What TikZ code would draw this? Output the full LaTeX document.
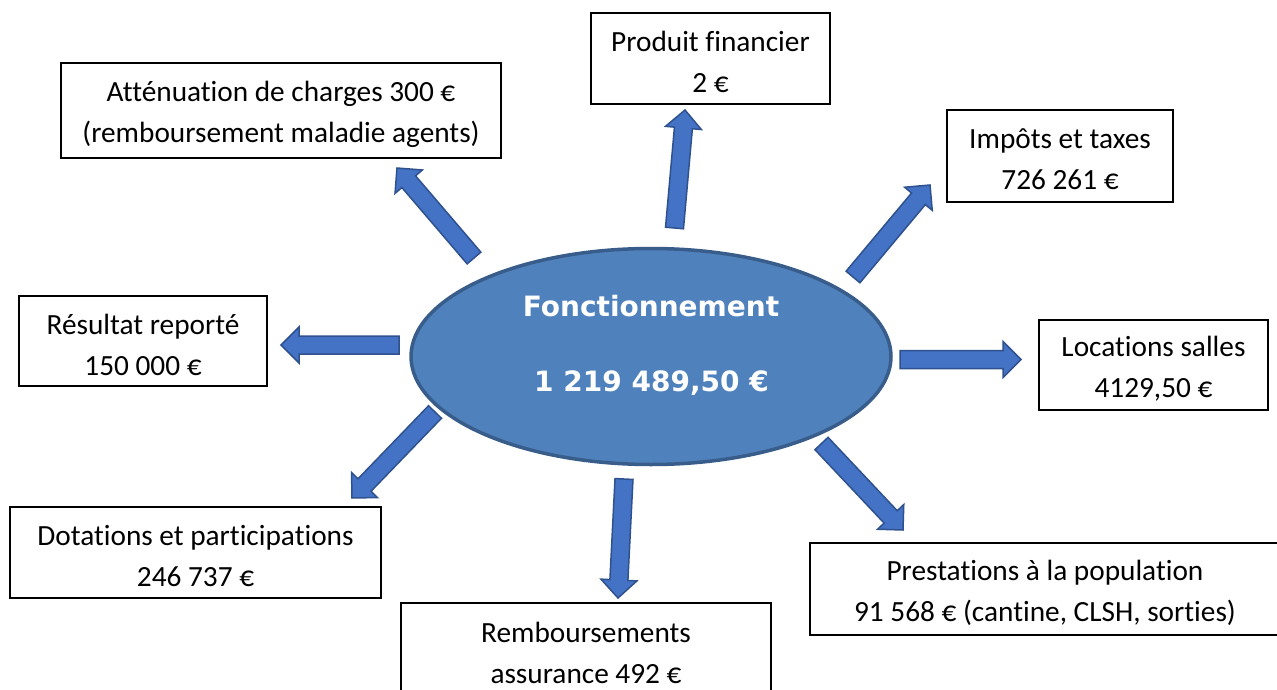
\documentclass[tikz,border=0pt]{standalone}
\usepackage{fontspec}
\usetikzlibrary{calc,shapes.geometric}
\newfontfamily\boxfont[Ligatures={NoCommon,NoRare,NoDiscretionary,NoContextual}]{Carlito}
\newfontfamily\ellfont{DejaVu Sans}
\definecolor{ellfill}{RGB}{79,129,189}
\definecolor{elldraw}{RGB}{56,93,138}
\definecolor{arrfill}{RGB}{68,114,196}
\definecolor{arrdraw}{RGB}{47,82,143}
\tikzset{
  infobox/.style={draw=black, line width=1.3pt, inner sep=0pt},
  boxtext/.style={inner sep=0pt, align=center, yshift=-3.5pt,
    font=\boxfont\fontsize{29.3}{41}\selectfont},
  blockarrow/.style={draw=arrdraw, fill=arrfill, line width=1.5pt, line join=miter},
  elltext/.style={text=white, font=\ellfont\bfseries\fontsize{28}{34}\selectfont, anchor=base, inner sep=0pt}
}
% #1 name, #2 centre, #3 width, #4 height, #5 text
\newcommand\infobox[5]{%
  \node[infobox, minimum width=#3pt, minimum height=#4pt] (#1) at (#2) {};
  \node[boxtext] (#1-text) at (#1.center) {#5};
}
\newcommand\bigarrow[2]{%
  \coordinate (#2-base) at ($(#2)!18pt!(#1)$);
  \draw[blockarrow] ($(#1)!9pt!90:(#2)$) -- ($(#2-base)!9pt!90:(#2)$) -- ($(#2-base)!18pt!90:(#2)$) -- (#2)
    -- ($(#2-base)!18pt!-90:(#2)$) -- ($(#2-base)!9pt!-90:(#2)$) -- ($(#1)!9pt!-90:(#2)$) -- cycle;
}
\begin{document}
\begin{tikzpicture}[x=1pt,y=-1pt]
\useasboundingbox (0,0) rectangle (1277,690);
\fill[white] (0,0) rectangle (1277,690);

% boxes
\infobox{attenuation}{281,110.5}{440}{95}{Atténuation de charges 300 €\\(remboursement maladie agents)}
\infobox{produit}{710.5,58.5}{239}{91}{Produit financier\\2 €}
\infobox{impots}{1060,156}{226}{92}{Impôts et taxes\\726 261 €}
\infobox{resultat}{143,341}{248}{90}{Résultat reporté\\150 000 €}
\infobox{locations}{1153.5,365}{229}{90}{Locations salles\\4129,50 €}
\infobox{dotations}{195.5,552.5}{371}{91}{Dotations et participations\\246 737 €}
\infobox{prestations}{1045,589}{470}{92}{Prestations à la population\\91 568 € (cantine, CLSH, sorties)}
\infobox{remboursements}{586,649}{370}{92}{Remboursements\\assurance 492 €}

% central ellipse
\node[ellipse, draw=elldraw, fill=ellfill, line width=3.5pt, minimum width=480pt, minimum height=216pt, inner sep=0pt] (centre) at (651,356.5) {};
\node[elltext] (ftitle) at (651,316.7) {Fonctionnement};
\node[elltext] (ftotal) at (651.5,391.7) {1 219 489,50 €};

% arrow end points
\coordinate (t1) at (474,258);   \coordinate (h1) at (397,168);
\coordinate (t2) at (674.5,228); \coordinate (h2) at (685,110);
\coordinate (t3) at (853,277);   \coordinate (h3) at (930,185);
\coordinate (t4) at (900,359.5); \coordinate (h4) at (1021,359.5);
\coordinate (t5) at (399,345);   \coordinate (h5) at (281,345);
\coordinate (t6) at (435,412);   \coordinate (h6) at (352,498);
\coordinate (t7) at (624,479);   \coordinate (h7) at (618,598);
\coordinate (t8) at (821.5,443.5); \coordinate (h8) at (903,530);

\bigarrow{t1}{h1}
\bigarrow{t2}{h2}
\bigarrow{t3}{h3}
\bigarrow{t4}{h4}
\bigarrow{t5}{h5}
\bigarrow{t6}{h6}
\bigarrow{t7}{h7}
\bigarrow{t8}{h8}
\end{tikzpicture}
\end{document}
